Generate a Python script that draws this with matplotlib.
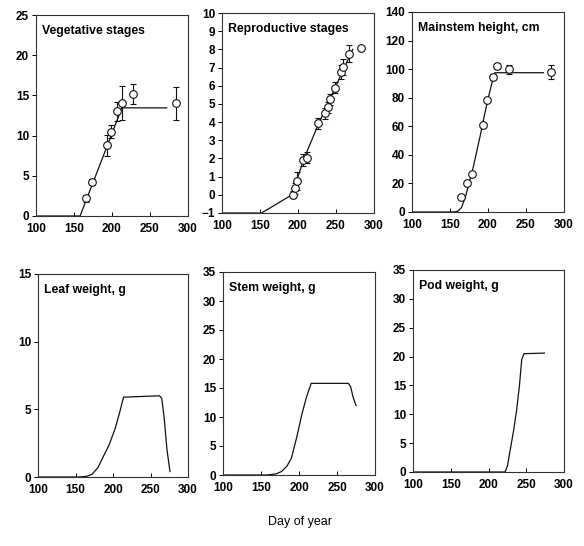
import matplotlib
matplotlib.use("Agg")
import matplotlib.pyplot as plt

plt.rcParams['font.family'] = ['Liberation Sans', 'DejaVu Sans']

# ---- Data ----
# Vegetative stages
veg_line_day = [100, 158, 213, 272]
veg_line_val = [0, 0, 13.45, 13.45]
veg_obs_day = [166, 174, 194, 199, 207, 213, 227, 284]
veg_obs_val = [2.2, 4.2, 8.8, 10.5, 13.0, 14.1, 15.2, 14.0]
veg_obs_err = [0.4, 0.4, 1.3, 0.8, 1.2, 2.1, 1.25, 2.05]

# Reproductive stages
rep_line_day = [100, 152, 192, 208, 226, 272]
rep_line_val = [-1, -1, 0, 2.0, 3.8, 8.0]
rep_obs_day = [193, 196, 199, 207, 212, 226, 235, 240, 242, 249, 256, 259, 267, 283]
rep_obs_val = [0.0, 0.37, 0.77, 1.92, 2.05, 3.93, 4.48, 4.81, 5.25, 5.9, 6.76, 7.04, 7.77, 8.05]
rep_obs_err = [0.2, 0.3, 0.5, 0.35, 0.3, 0.3, 0.3, 0.3, 0.3, 0.3, 0.4, 0.45, 0.45, 0.0]

# Mainstem height
ht_line_day = [100, 155, 160, 165, 170, 175, 180, 185, 190, 195, 200, 205, 209, 273]
ht_line_val = [0, 0, 0.5, 3, 10, 20, 30, 42, 54, 67, 79, 90, 97.5, 97.5]
ht_obs_day = [165, 173, 179, 193, 199, 206, 212, 228, 283]
ht_obs_val = [10.5, 20.3, 26.9, 60.7, 78.2, 94.5, 102.2, 99.9, 98.0]
ht_obs_err = [1.0, 1.0, 1.0, 1.5, 1.5, 2.0, 2.0, 3.0, 5.0]

# Leaf weight
leaf_day = [100, 155, 165, 172, 180, 187, 195, 203, 209, 214, 262, 265, 268, 272, 276]
leaf_val = [0, 0, 0.05, 0.2, 0.7, 1.5, 2.4, 3.6, 4.8, 5.9, 6.0, 5.8, 4.5, 2.0, 0.4]

# Stem weight
stem_day = [100, 158, 170, 177, 184, 190, 197, 204, 210, 216, 265, 268, 271, 275]
stem_val = [0, 0, 0.2, 0.6, 1.5, 2.9, 6.5, 10.6, 13.5, 15.8, 15.8, 15.2, 13.5, 12.0]

# Pod weight
pod_day = [100, 222, 225, 229, 233, 237, 241, 244, 247, 274]
pod_val = [0, 0, 1, 4, 7, 10.5, 15, 19.5, 20.5, 20.6]

titles = ["Vegetative stages", "Reproductive stages", "Mainstem height, cm",
          "Leaf weight, g", "Stem weight, g", "Pod weight, g"]
x_ticks = [100, 150, 200, 250, 300]
ylims = [(0, 25), (-1, 10), (0, 140), (0, 15), (0, 35), (0, 35)]
yticks = [list(range(0, 26, 5)), list(range(-1, 11)), list(range(0, 141, 20)),
          [0, 5, 10, 15], list(range(0, 36, 5)), list(range(0, 36, 5))]

fig = plt.figure(figsize=(5.84, 5.46), dpi=100)
W, H = 584, 546

def make_ax(l, r, t, b):
    return fig.add_axes([l / W, 1 - b / H, (r - l) / W, (b - t) / H])

axes = [
    make_ax(36, 188, 15, 216),
    make_ax(222, 374, 13, 213),
    make_ax(412, 564, 12, 212),
    make_ax(38, 188, 274, 477),
    make_ax(223, 375, 272, 475),
    make_ax(413, 564, 270, 472),
]

fs = 8.5
for i, ax in enumerate(axes):
    ax.set_xlim(100, 300)
    ax.set_ylim(*ylims[i])
    ax.set_xticks(x_ticks)
    ax.set_yticks(yticks[i])
    ax.tick_params(axis='x', direction='in', length=3, width=0.7, labelsize=fs, pad=5)
    ax.tick_params(axis='y', direction='out', length=3, width=0.7, labelsize=fs, pad=2)
    for lab in ax.get_xticklabels() + ax.get_yticklabels():
        lab.set_fontweight('bold')
    for s in ax.spines.values():
        s.set_linewidth(0.8)
        s.set_color('#333333')
    ax.text(0.04, 0.95, titles[i], transform=ax.transAxes, ha='left', va='top',
            fontsize=8.8, fontweight='bold')

lc = '#111111'
ebkw = dict(fmt='o', mfc='white', mec=lc, ms=5.5, mew=0.8, ecolor=lc,
            elinewidth=0.8, capsize=2.5, capthick=0.8, zorder=3)

ax = axes[0]
ax.plot(veg_line_day, veg_line_val, color=lc, lw=0.9)
ax.errorbar(veg_obs_day, veg_obs_val, yerr=veg_obs_err, **ebkw)

ax = axes[1]
ax.plot(rep_line_day, rep_line_val, color=lc, lw=0.9)
ax.errorbar(rep_obs_day, rep_obs_val, yerr=rep_obs_err, **ebkw)

ax = axes[2]
ax.plot(ht_line_day, ht_line_val, color=lc, lw=0.9)
ax.errorbar(ht_obs_day, ht_obs_val, yerr=ht_obs_err, **ebkw)

axes[3].plot(leaf_day, leaf_val, color=lc, lw=0.9)
axes[4].plot(stem_day, stem_val, color=lc, lw=0.9)
axes[5].plot(pod_day, pod_val, color=lc, lw=0.9)

fig.text(300 / W, 1 - 522 / H, "Day of year", ha='center', va='center', fontsize=9)

fig.savefig("out.png", dpi=100)
